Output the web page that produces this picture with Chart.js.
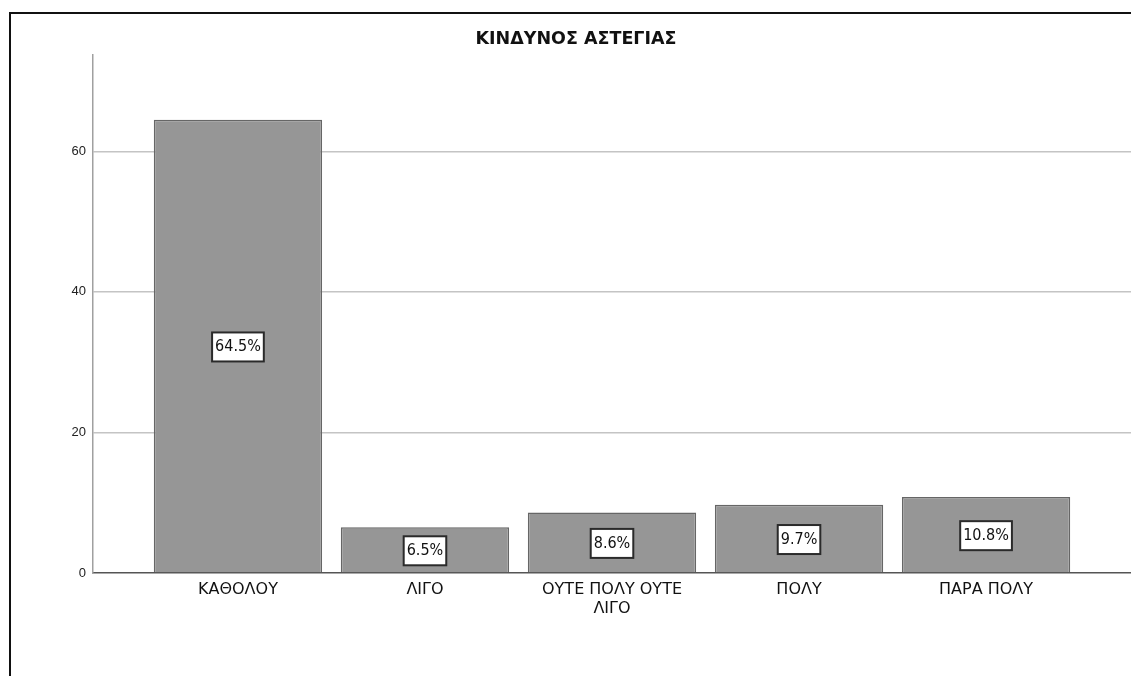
<!DOCTYPE html>
<html>
<head>
<meta charset="utf-8">
<script src="https://cdn.jsdelivr.net/npm/chart.js@4"></script>
<style>
  html, body { margin:0; padding:0; background:#fff; overflow:hidden; }
  #frame { position:absolute; left:9px; top:12px; width:1130px; height:670px;
           border-left:2px solid #111; border-top:2px solid #111; }
  #wrap { position:absolute; left:21px; top:0; width:1110px; height:676px; }
</style>
</head>
<body>
<div id="frame"></div>
<div id="wrap"><canvas id="c" width="1110" height="676"></canvas></div>
<script>
const chartTitle = "ΚΙΝΔΥΝΟΣ ΑΣΤΕΓΙΑΣ";
const categories = [["ΚΑΘΟΛΟΥ"], ["ΛΙΓΟ"], ["ΟΥΤΕ ΠΟΛΥ ΟΥΤΕ", "ΛΙΓΟ"], ["ΠΟΛΥ"], ["ΠΑΡΑ ΠΟΛΥ"]];
const percentValues = [64.5, 6.5, 8.6, 9.7, 10.8];
const yTicks = [0, 20, 40, 60];

const labelBoxPlugin = {
  id: 'labelBox',
  afterDatasetsDraw(chart) {
    const ctx = chart.ctx;
    const meta = chart.getDatasetMeta(0);
    ctx.save();
    ctx.font = '16px "DejaVu Sans Condensed", "DejaVu Sans", sans-serif';
    ctx.textAlign = 'center';
    ctx.textBaseline = 'middle';
    meta.data.forEach((el, i) => {
      const txt = percentValues[i].toFixed(1) + '%';
      const cx = el.x;
      const cy = (el.y + el.base) / 2 + 1;
      const w = ctx.measureText(txt).width + 6;
      const h = 29;
      ctx.fillStyle = '#fff';
      ctx.fillRect(cx - w / 2, cy - h / 2, w, h);
      ctx.strokeStyle = '#2a2a2a';
      ctx.lineWidth = 2;
      ctx.strokeRect(cx - w / 2, cy - h / 2, w, h);
      ctx.fillStyle = '#111';
      ctx.fillText(txt, cx, cy);
    });
    ctx.restore();
  }
};

new Chart(document.getElementById('c'), {
  type: 'bar',
  data: {
    datasets: [{
      data: percentValues.map((v, i) => ({ x: i, y: v })),
      backgroundColor: '#969696',
      borderColor: '#666666',
      borderWidth: 1.5,
      barPercentage: 0.9,
      categoryPercentage: 1.0
    }]
  },
  options: {
    responsive: false,
    animation: false,
    layout: { padding: { left: 0, right: 0, top: 0, bottom: 0 } },
    plugins: {
      legend: { display: false },
      tooltip: { enabled: false },
      title: {
        display: true,
        text: chartTitle,
        color: '#111',
        font: { family: '"DejaVu Sans", sans-serif', size: 17.5, weight: 'bold' },
        padding: { top: 29, bottom: 5 }
      }
    },
    scales: {
      x: {
        type: 'linear',
        offset: false,
        min: -0.775,
        max: 4.775,
        afterBuildTicks: (axis) => { axis.ticks = categories.map((c, i) => ({ value: i })); },
        afterFit: (axis) => { axis.height = 103; },
        grid: { display: false, drawTicks: false, offset: false },
        border: { display: true, color: '#555', width: 1.5 },
        ticks: {
          autoSkip: false,
          maxRotation: 0,
          padding: 8,
          color: '#111',
          font: { family: '"DejaVu Sans", sans-serif', size: 16, lineHeight: 1.15 },
          callback: (v) => categories[v]
        }
      },
      y: {
        min: 0,
        max: 73.7,
        afterBuildTicks: (axis) => { axis.ticks = yTicks.map(v => ({ value: v })); },
        afterFit: (axis) => { axis.width = 72; },
        grid: {
          drawTicks: false,
          color: (ctx) => ctx.tick && ctx.tick.value === 0 ? 'rgba(0,0,0,0)' : '#c4c4c4',
          lineWidth: 1.5
        },
        border: { display: true, color: '#a0a0a0', width: 1.5 },
        ticks: {
          padding: 7,
          color: '#222',
          font: { family: '"Liberation Sans", Arial, sans-serif', size: 13 }
        }
      }
    }
  },
  plugins: [labelBoxPlugin]
});
</script>
</body>
</html>
